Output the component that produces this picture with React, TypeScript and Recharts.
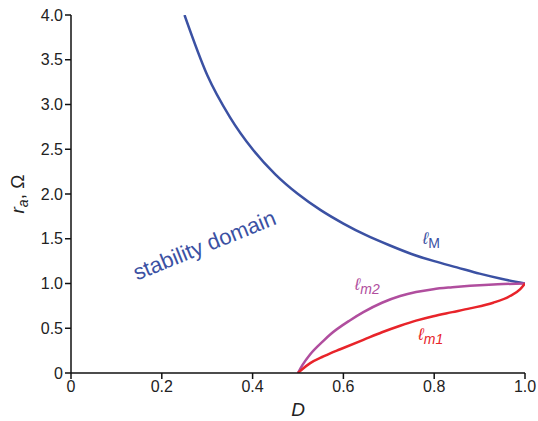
import { LineChart, Line, XAxis, YAxis, ReferenceDot, Label } from "recharts";

const xTicks = [0, 0.2, 0.4, 0.6, 0.8, 1.0];
const yTicks = [0, 0.5, 1.0, 1.5, 2.0, 2.5, 3.0, 3.5, 4.0];

// l_M boundary
const dM = [0.25, 0.3, 0.35, 0.4, 0.45, 0.5, 0.55, 0.6, 0.65, 0.7, 0.75, 0.8, 0.85, 0.9, 0.95, 1.0];
const rM = [4.0, 3.33, 2.86, 2.5, 2.22, 2.0, 1.82, 1.67, 1.54, 1.43, 1.33, 1.25, 1.18, 1.11, 1.05, 1.0];

// l_m2 boundary
const dM2 = [0.5, 0.51, 0.527, 0.556, 0.571, 0.615, 0.644, 0.685, 0.725, 0.76, 0.798, 0.84, 0.879, 0.94, 1.0];
const rM2 = [0, 0.09, 0.21, 0.36, 0.43, 0.59, 0.68, 0.785, 0.86, 0.905, 0.937, 0.958, 0.974, 0.992, 1.0];

// l_m1 boundary
const dM1 = [0.5, 0.51, 0.527, 0.556, 0.571, 0.593, 0.644, 0.685, 0.725, 0.76, 0.798, 0.84, 0.879, 0.93, 0.967, 0.989, 1.0];
const rM1 = [0, 0.045, 0.11, 0.185, 0.22, 0.265, 0.37, 0.455, 0.528, 0.585, 0.635, 0.68, 0.722, 0.785, 0.86, 0.933, 1.0];

const zip = (xs: number[], ys: number[]) => xs.map((d, i) => ({ d, r: ys[i] }));

const BLUE = "#3b51a3";
const PURPLE = "#b04e9e";
const RED = "#e8242a";
const FONT = "'Liberation Sans', Arial, sans-serif";
const fmt = (v: number) => (v === 0 ? "0" : v.toFixed(1));

const tick = { fill: "#222", fontSize: 16, fontFamily: FONT };

function ellLabel(color: string, sub: string, italicSub: boolean) {
  return (p: any) => (
    <text x={p.cx} y={p.cy} fill={color} fontFamily={FONT}>
      <tspan fontSize={17} fontStyle="italic">ℓ</tspan>
      <tspan fontSize={14} dy={4} fontStyle={italicSub ? "italic" : "normal"}>{sub}</tspan>
    </text>
  );
}

export default function App() {
  return (
    <div style={{ position: "absolute", left: 0, top: 0, width: 538, height: 421, background: "#fff" }}>
      <LineChart width={538} height={421} margin={{ top: 15, right: 13, bottom: 0, left: 0 }}>
        <XAxis
          type="number"
          dataKey="d"
          domain={[0, 1]}
          ticks={xTicks}
          tickFormatter={fmt}
          tick={tick}
          tickSize={6}
          height={48}
          stroke="#111"
          strokeWidth={1.5}
          allowDataOverflow
        >
          <Label value="D" position="insideBottom" offset={5} fill="#222" fontSize={19} fontStyle="italic" fontFamily={FONT} />
        </XAxis>
        <YAxis
          type="number"
          dataKey="r"
          width={71}
          domain={[0, 4]}
          ticks={yTicks}
          tickFormatter={fmt}
          tick={tick}
          tickSize={6}
          stroke="#111"
          strokeWidth={1.5}
          allowDataOverflow
        >
          <Label
            content={(p: any) => {
              const vb = p.viewBox;
              const cx = 24;
              const cy = vb.y + vb.height / 2;
              return (
                <text x={cx} y={cy} transform={`rotate(-90 ${cx} ${cy})`} textAnchor="middle" fill="#222" fontFamily={FONT} fontSize={19}>
                  <tspan fontStyle="italic">r</tspan>
                  <tspan fontSize={14} dy={4} fontStyle="italic">a</tspan>
                  <tspan dy={-4}>, Ω</tspan>
                </text>
              );
            }}
          />
        </YAxis>
        <Line data={zip(dM, rM)} dataKey="r" type="monotone" stroke={BLUE} strokeWidth={2.5} dot={false} isAnimationActive={false} />
        <Line data={zip(dM2, rM2)} dataKey="r" type="monotone" stroke={PURPLE} strokeWidth={2.5} dot={false} isAnimationActive={false} />
        <Line data={zip(dM1, rM1)} dataKey="r" type="monotone" stroke={RED} strokeWidth={2.5} dot={false} isAnimationActive={false} />
        <ReferenceDot x={0.775} y={1.44} r={1} shape={ellLabel(BLUE, "M", false)} />
        <ReferenceDot x={0.625} y={0.93} r={1} shape={ellLabel(PURPLE, "m2", true)} />
        <ReferenceDot x={0.765} y={0.37} r={1} shape={ellLabel(RED, "m1", true)} />
        <ReferenceDot
          x={0.3}
          y={1.35}
          r={1}
          shape={(p: any) => (
            <text x={p.cx} y={p.cy} transform={`rotate(-22 ${p.cx} ${p.cy})`} textAnchor="middle" fill={BLUE} fontFamily={FONT} fontSize={22}>
              stability domain
            </text>
          )}
        />
      </LineChart>
    </div>
  );
}
